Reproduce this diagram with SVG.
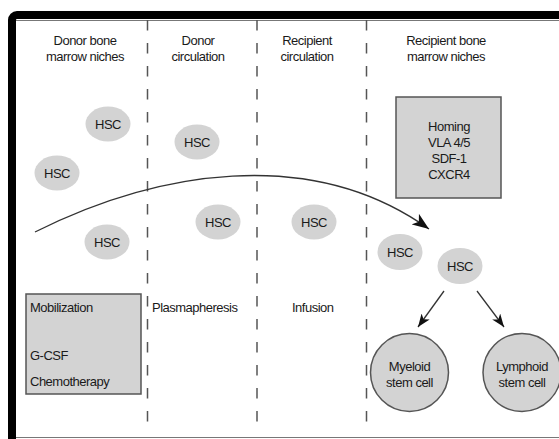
<svg xmlns="http://www.w3.org/2000/svg" width="559" height="439" viewBox="0 0 559 439">
<style>
text{font-family:"Liberation Sans",Arial,sans-serif;font-size:13px;letter-spacing:-0.5px;fill:#1a1a1a}
.c{text-anchor:middle}
.hsc{fill:#d3d3d3}
.box{fill:#d3d3d3;stroke:#555;stroke-width:1.5}
.dash{stroke:#555;stroke-width:1.5;stroke-dasharray:10.5 12.5;fill:none}
.arr{stroke:#333;stroke-width:1.3;fill:none}
</style>
<defs>
<marker id="ah" markerUnits="userSpaceOnUse" markerWidth="14" markerHeight="10" refX="13" refY="5" orient="auto">
<path d="M0,0 L13,5 L0,10 L3.5,5 Z" fill="#111"/>
</marker>
<marker id="ahb" markerUnits="userSpaceOnUse" markerWidth="18" markerHeight="13" refX="17" refY="6.5" orient="auto">
<path d="M0,0 L17,6.5 L0,13 L4.5,6.5 Z" fill="#111"/>
</marker>
</defs>
<rect width="559" height="439" fill="#fff"/>
<g id="frame">
<rect x="12" y="15" width="620" height="500" rx="5" fill="none" stroke="#000" stroke-width="8"/>
<path d="M16 20.5 H559 M16 437.5 H559" stroke="#777" stroke-width="1.2" fill="none"/>
</g>
<g id="dividers">
<line class="dash" x1="147.5" y1="20" x2="147.5" y2="432"/>
<line class="dash" x1="257" y1="20" x2="257" y2="432"/>
<line class="dash" x1="366.5" y1="20" x2="366.5" y2="432"/>
</g>
<g id="headers">
<text class="c" x="85" y="45">Donor bone</text>
<text class="c" x="85" y="61">marrow niches</text>
<text class="c" x="198" y="45">Donor</text>
<text class="c" x="198" y="61">circulation</text>
<text class="c" x="307" y="45">Recipient</text>
<text class="c" x="307" y="61">circulation</text>
<text class="c" x="446" y="45">Recipient bone</text>
<text class="c" x="446" y="61">marrow niches</text>
</g>
<g id="hsc1"><ellipse class="hsc" cx="108" cy="124" rx="22.5" ry="17.5"/><text class="c" x="108" y="128.5">HSC</text></g>
<g id="hsc2"><ellipse class="hsc" cx="57" cy="173" rx="22.5" ry="17.5"/><text class="c" x="57" y="177.5">HSC</text></g>
<g id="hsc3"><ellipse class="hsc" cx="197" cy="142" rx="22.5" ry="17.5"/><text class="c" x="197" y="146.5">HSC</text></g>
<g id="hsc4"><ellipse class="hsc" cx="107" cy="242" rx="22.5" ry="17.5"/><text class="c" x="107" y="246.5">HSC</text></g>
<g id="hsc5"><ellipse class="hsc" cx="218" cy="222" rx="22.5" ry="17.5"/><text class="c" x="218" y="226.5">HSC</text></g>
<g id="hsc6"><ellipse class="hsc" cx="314" cy="222" rx="22.5" ry="17.5"/><text class="c" x="314" y="226.5">HSC</text></g>
<g id="hsc7"><ellipse class="hsc" cx="400" cy="252" rx="22.5" ry="18"/><text class="c" x="400" y="256.5">HSC</text></g>
<g id="hsc8"><ellipse class="hsc" cx="460" cy="266" rx="22.5" ry="18"/><text class="c" x="460" y="270.5">HSC</text></g>
<g id="homing">
<rect class="box" x="396" y="97" width="105" height="101"/>
<text class="c" x="449" y="131">Homing</text>
<text class="c" x="449" y="147">VLA 4/5</text>
<text class="c" x="449" y="163">SDF-1</text>
<text class="c" x="449" y="179">CXCR4</text>
</g>
<g id="mobilization">
<rect class="box" x="26" y="294" width="115" height="100"/>
<text x="30" y="312">Mobilization</text>
<text x="30" y="360">G-CSF</text>
<text x="30" y="386">Chemotherapy</text>
</g>
<g id="plasmapheresis"><text x="152" y="312">Plasmapheresis</text></g>
<g id="infusion"><text x="292" y="312">Infusion</text></g>
<g id="myeloid">
<circle class="box" cx="409.5" cy="372.5" r="39"/>
<text class="c" x="409.5" y="371">Myeloid</text>
<text class="c" x="409.5" y="387">stem cell</text>
</g>
<g id="lymphoid">
<circle class="box" cx="522" cy="372.5" r="39"/>
<text class="c" x="522" y="371">Lymphoid</text>
<text class="c" x="522" y="387">stem cell</text>
</g>
<g id="connectors">
<path class="arr" d="M35 232 C155 172 310 144 429 229" marker-end="url(#ahb)"/>
<line class="arr" x1="444" y1="291" x2="418" y2="327" marker-end="url(#ah)"/>
<line class="arr" x1="477" y1="291" x2="504" y2="327" marker-end="url(#ah)"/>
</g>
</svg>
